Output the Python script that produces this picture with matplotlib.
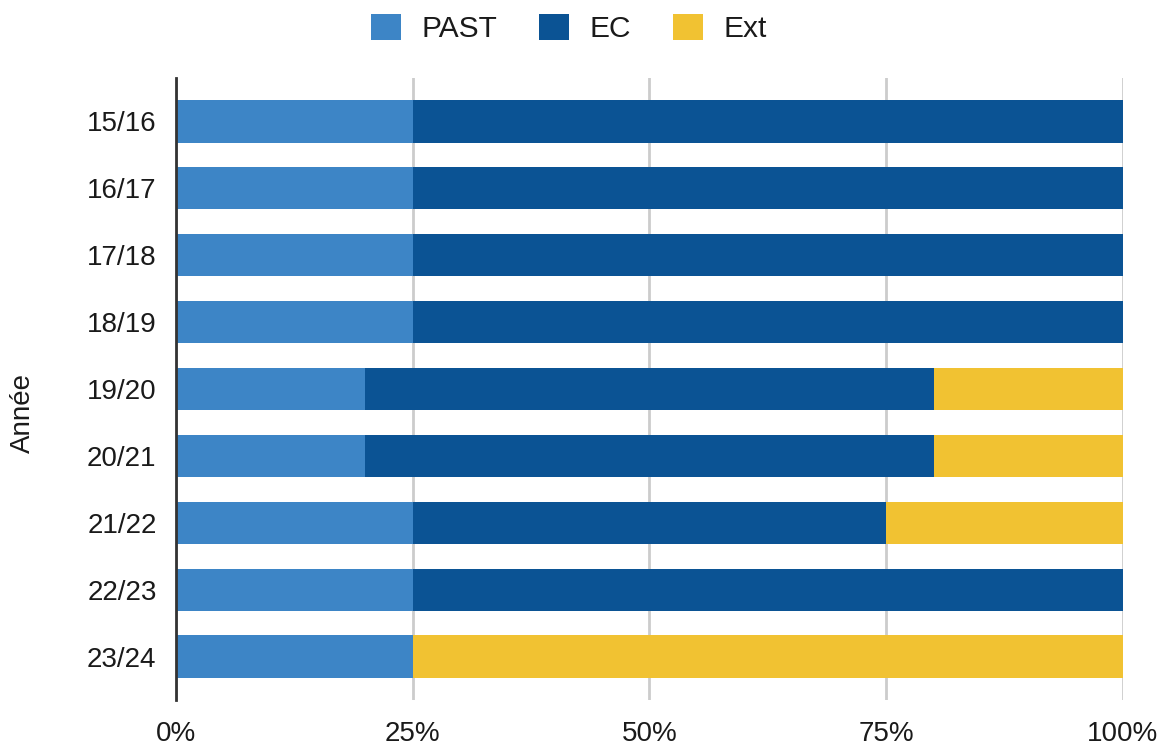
import numpy as np
import matplotlib.pyplot as plt
from matplotlib.patches import Patch

plt.rcParams["font.family"] = ["Liberation Sans", "DejaVu Sans"]

years = ["15/16", "16/17", "17/18", "18/19", "19/20", "20/21", "21/22", "22/23", "23/24"]
past = [25, 25, 25, 25, 20, 20, 25, 25, 25]
ec = [75, 75, 75, 75, 60, 60, 50, 75, 0]
ext = [0, 0, 0, 0, 20, 20, 25, 0, 75]

colors = {"PAST": "#3d85c6", "EC": "#0b5394", "Ext": "#f1c232"}

fig = plt.figure(figsize=(11.71, 7.47), dpi=100)
ax = fig.add_axes([0.1503, 0.0629, 0.8087, 0.8327])

y = np.arange(len(years))
left = np.zeros(len(years))
for name, vals in [("PAST", past), ("EC", ec), ("Ext", ext)]:
    vals = np.array(vals, dtype=float)
    ax.barh(y, vals, left=left, height=0.63, color=colors[name], zorder=3)
    left += vals

ax.set_ylim(len(years) - 0.35, -0.65)
ax.set_xlim(0, 100)
ax.set_yticks(y)
ax.set_yticklabels(years)
ax.set_xticks([0, 25, 50, 75, 100])
ax.set_xticklabels(["0%", "25%", "50%", "75%", "100%"])
ax.tick_params(axis="both", length=0, labelsize=20, colors="#1a1a1a")
ax.tick_params(axis="y", pad=14)
ax.tick_params(axis="x", pad=15)

ax.grid(axis="x", color="#cccccc", linewidth=2, zorder=0)
for s in ["top", "right", "bottom"]:
    ax.spines[s].set_visible(False)
ax.spines["left"].set_color("#333333")
ax.spines["left"].set_linewidth(2)
ax.spines["left"].set_zorder(4)

ax.set_ylabel("Année", fontsize=20, color="#1a1a1a")
ax.yaxis.set_label_coords(-0.148, 0.461)

handles = [Patch(facecolor=colors[k], label=k) for k in ["PAST", "EC", "Ext"]]
leg = fig.legend(handles=handles, loc="center", bbox_to_anchor=(0.486, 0.962), ncol=3,
                 frameon=False, fontsize=21.5, handlelength=1.0, handleheight=1.0,
                 handletextpad=0.7, columnspacing=1.4)
for t in leg.get_texts():
    t.set_color("#1a1a1a")

fig.savefig("out.png", dpi=100)
